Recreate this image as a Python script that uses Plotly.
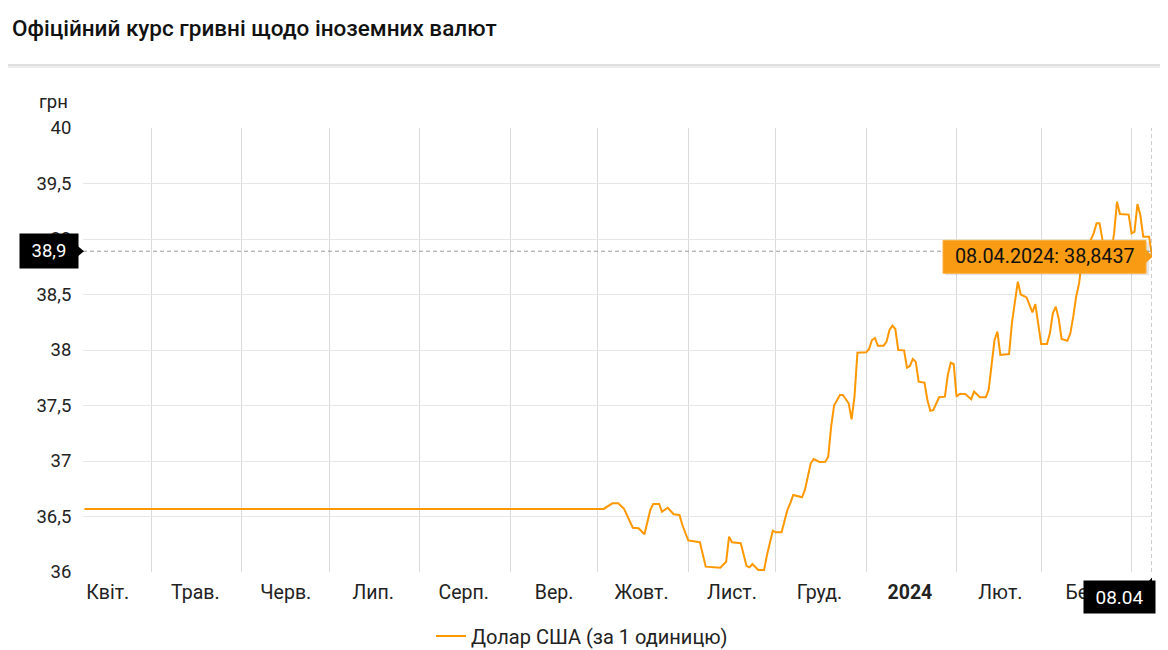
import plotly.graph_objects as go

# ---------------- data ----------------
dates = [
    "2023-04-08", "2023-10-02", "2023-10-03", "2023-10-06", "2023-10-08", "2023-10-10",
    "2023-10-11", "2023-10-13", "2023-10-15", "2023-10-17", "2023-10-19", "2023-10-20",
    "2023-10-22", "2023-10-23", "2023-10-25", "2023-10-27", "2023-10-29", "2023-10-30",
    "2023-11-01", "2023-11-05", "2023-11-07", "2023-11-12", "2023-11-14", "2023-11-15",
    "2023-11-16", "2023-11-19", "2023-11-21", "2023-11-22", "2023-11-23", "2023-11-25",
    "2023-11-27", "2023-11-28", "2023-11-30", "2023-12-01", "2023-12-03", "2023-12-05",
    "2023-12-06", "2023-12-07", "2023-12-10", "2023-12-11", "2023-12-13", "2023-12-14",
    "2023-12-16", "2023-12-18", "2023-12-19", "2023-12-20", "2023-12-21", "2023-12-23",
    "2023-12-24", "2023-12-25", "2023-12-26", "2023-12-27", "2023-12-28", "2023-12-29",
    "2024-01-01", "2024-01-02", "2024-01-03", "2024-01-04", "2024-01-05", "2024-01-07",
    "2024-01-08", "2024-01-09", "2024-01-10", "2024-01-11", "2024-01-12", "2024-01-14",
    "2024-01-15", "2024-01-16", "2024-01-17", "2024-01-18", "2024-01-19", "2024-01-21",
    "2024-01-22", "2024-01-23", "2024-01-24", "2024-01-26", "2024-01-28", "2024-01-29",
    "2024-01-30", "2024-01-31", "2024-02-01", "2024-02-02", "2024-02-04", "2024-02-06",
    "2024-02-07", "2024-02-09", "2024-02-11", "2024-02-12", "2024-02-14", "2024-02-15",
    "2024-02-16", "2024-02-19", "2024-02-20", "2024-02-22", "2024-02-23", "2024-02-25",
    "2024-02-26", "2024-02-27", "2024-02-28", "2024-02-29", "2024-03-01", "2024-03-03",
    "2024-03-04", "2024-03-05", "2024-03-06", "2024-03-07", "2024-03-08", "2024-03-10",
    "2024-03-11", "2024-03-12", "2024-03-13", "2024-03-14", "2024-03-15", "2024-03-17",
    "2024-03-19", "2024-03-20", "2024-03-21", "2024-03-22", "2024-03-23", "2024-03-25",
    "2024-03-26", "2024-03-27", "2024-03-28", "2024-03-31", "2024-04-01", "2024-04-02",
    "2024-04-03", "2024-04-04", "2024-04-05", "2024-04-07", "2024-04-08",
]
usd_rate = [
    36.5686, 36.5686, 36.5686, 36.619, 36.619, 36.570,
    36.514, 36.399, 36.394, 36.340, 36.559, 36.613,
    36.613, 36.543, 36.579, 36.520, 36.514, 36.423,
    36.285, 36.268, 36.048, 36.039, 36.093, 36.318,
    36.268, 36.259, 36.054, 36.042, 36.072, 36.018,
    36.018, 36.153, 36.372, 36.358, 36.358, 36.559,
    36.620, 36.694, 36.673, 36.739, 36.979, 37.018,
    36.991, 36.994, 37.039, 37.309, 37.500, 37.595,
    37.595, 37.556, 37.520, 37.376, 37.580, 37.976,
    37.979, 38.009, 38.090, 38.108, 38.039, 38.039,
    38.075, 38.180, 38.219, 38.189, 38.000, 37.997,
    37.841, 37.856, 37.919, 37.895, 37.715, 37.706,
    37.550, 37.453, 37.459, 37.574, 37.580, 37.775,
    37.886, 37.874, 37.580, 37.604, 37.604, 37.556,
    37.625, 37.574, 37.574, 37.640, 38.090, 38.165,
    37.955, 37.964, 38.250, 38.615, 38.500, 38.474,
    38.400, 38.339, 38.414, 38.240, 38.054, 38.054,
    38.150, 38.330, 38.390, 38.285, 38.100, 38.084,
    38.150, 38.300, 38.480, 38.600, 38.811, 38.931,
    39.051, 39.141, 39.141, 38.997, 38.870, 38.870,
    39.050, 39.336, 39.225, 39.220, 39.051, 39.066,
    39.315, 39.216, 39.021, 39.021, 38.8437,
]

month_starts = ["2023-05-01", "2023-06-01", "2023-07-01", "2023-08-01", "2023-09-01",
                "2023-10-01", "2023-11-01", "2023-12-01", "2024-01-01", "2024-02-01",
                "2024-03-01", "2024-04-01"]
label_dates = ["2023-04-16", "2023-05-16", "2023-06-16", "2023-07-16", "2023-08-16",
               "2023-09-16", "2023-10-16", "2023-11-16", "2023-12-16", "2024-01-16",
               "2024-02-16", "2024-03-16"]
label_text = ["Квіт.", "Трав.", "Черв.", "Лип.", "Серп.", "Вер.", "Жовт.", "Лист.",
              "Груд.", "<b>2024</b>", "Лют.", "Бер."]
y_ticks = [36, 36.5, 37, 37.5, 38, 38.5, 39, 39.5, 40]

series_name = "Долар США (за 1 одиницю)"
title_text = "Офіційний курс гривні щодо іноземних валют"
y_unit = "грн"
crosshair_y = 38.89
crosshair_label = "38,9"
x_label = "08.04"

# ---------------- layout geometry ----------------
# the page body adds an 8px margin, so the figure is shifted by OFF
OFF = 8
W, H = 1160, 642
L, T = 83 - OFF, 128 - OFF
R = W - (1152 - OFF)
B = H - (572 - OFF)
PW, PH = W - L - R, H - T - B


def fx(px):  # reference page pixel -> paper x
    return (px - OFF - L) / PW


def fy(py):  # reference page pixel -> paper y
    return (H - B - (py - OFF)) / PH


LINE = "#ff9800"
TIP = "#f99c14"
FONT = "Roboto"

last_date, last_val = dates[-1], usd_rate[-1]
d = last_date.split("-")
tip_text = f"{d[2]}.{d[1]}.{d[0]}: " + f"{last_val:.4f}".replace(".", ",")

fig = go.Figure()
fig.add_trace(go.Scatter(
    x=dates, y=usd_rate, mode="lines", name=series_name,
    line=dict(color=LINE, width=2), hoverinfo="skip",
))

shapes = []
# header separator with soft shadow
shapes.append(dict(type="line", xref="paper", yref="paper", x0=fx(0), x1=fx(W + 20),
                   y0=fy(65), y1=fy(65), line=dict(color="#d4d4d4", width=1.5)))
shapes.append(dict(type="line", xref="paper", yref="paper", x0=fx(0), x1=fx(W + 20),
                   y0=fy(67), y1=fy(67), line=dict(color="#ededed", width=2)))
# crosshair
shapes.append(dict(type="line", xref="paper", yref="y", x0=0, x1=1,
                   y0=crosshair_y, y1=crosshair_y,
                   line=dict(color="#9a9a9a", width=1, dash="4px,3px"), layer="above"))
shapes.append(dict(type="line", xref="x", yref="paper", x0=last_date, x1=last_date,
                   y0=0, y1=1, line=dict(color="#9a9a9a", width=1, dash="4px,3px"),
                   layer="above"))
# tooltip shadow, box and pointer
shapes.append(dict(type="rect", xref="x", yref="y", xsizemode="pixel", ysizemode="pixel",
                   xanchor=last_date, yanchor=last_val, x0=-207, x1=-3, y0=-19, y1=14,
                   fillcolor="rgba(0,0,0,0.10)", line=dict(width=0), layer="above"))
shapes.append(dict(type="rect", xref="x", yref="y", xsizemode="pixel", ysizemode="pixel",
                   xanchor=last_date, yanchor=last_val, x0=-209, x1=-6, y0=-17, y1=16,
                   fillcolor=TIP, line=dict(color="#fbb040", width=1), layer="above"))
shapes.append(dict(type="path", xref="x", yref="y", xsizemode="pixel", ysizemode="pixel",
                   xanchor=last_date, yanchor=last_val,
                   path="M-6.5,7 L1,0 L-6.5,-7 Z", fillcolor=TIP, line=dict(width=0),
                   layer="above"))
# pointers of the black axis labels
shapes.append(dict(type="path", xref="paper", yref="y", xsizemode="pixel", ysizemode="pixel",
                   xanchor=0, yanchor=crosshair_y, path="M-5,5 L1,0 L-5,-5 Z",
                   fillcolor="black", line=dict(width=0), layer="above"))
shapes.append(dict(type="path", xref="x", yref="paper", xsizemode="pixel", ysizemode="pixel",
                   xanchor=last_date, yanchor=0, path="M-3,-9 L4,-1 L4,-9 Z",
                   fillcolor="black", line=dict(width=0), layer="above"))

annotations = [
    dict(text=y_unit, xref="paper", yref="paper", x=fx(53), y=fy(102), showarrow=False,
         xanchor="center", yanchor="middle", font=dict(size=18.5, color="#222", family=FONT)),
    dict(text=crosshair_label, xref="paper", yref="y", x=0, y=crosshair_y, xshift=-4,
         xanchor="right", yanchor="middle", showarrow=False, bgcolor="black",
         width=58, height=34, borderpad=0, font=dict(size=18.5, color="white", family=FONT)),
    dict(text=x_label, xref="x", yref="paper", x=last_date, y=0, xshift=4, yshift=-8,
         xanchor="right", yanchor="top", showarrow=False, bgcolor="black",
         width=71, height=32, borderpad=0, font=dict(size=19, color="white", family=FONT)),
    dict(text=tip_text, xref="x", yref="y", x=last_date, y=last_val, xshift=-107.5,
         yshift=0, xanchor="center", yanchor="middle", showarrow=False,
         font=dict(size=19.8, color="#111", family=FONT)),
]

fig.update_layout(
    width=W, height=H,
    margin=dict(l=L, r=R, t=T, b=B, autoexpand=False),
    paper_bgcolor="white", plot_bgcolor="white",
    separators=",.",
    font=dict(family=FONT, size=18, color="#222"),
    title=dict(text=title_text, xref="container", yref="container",
               x=(12 - OFF) / W, y=1 - (28 - OFF) / H, xanchor="left", yanchor="middle",
               font=dict(family=FONT, size=22.5, color="#111", weight=500)),
    showlegend=True,
    legend=dict(orientation="h", xref="paper", yref="paper", x=fx(582), y=fy(636),
                xanchor="center", yanchor="middle", font=dict(size=20, color="#222"),
                itemwidth=30),
    hovermode=False,
    shapes=shapes,
    annotations=annotations,
    xaxis=dict(
        type="date", range=["2023-04-07 12:00", last_date],
        tickmode="array", tickvals=label_dates, ticktext=label_text,
        showgrid=False, ticks="outside", ticklen=3, tickcolor="rgba(0,0,0,0)",
        tickfont=dict(size=19.5, color="#222"), showline=False, zeroline=False,
        minor=dict(tickmode="array", tickvals=month_starts, showgrid=True,
                   gridcolor="#dadada", gridwidth=1, ticks=""),
    ),
    yaxis=dict(
        range=[36, 40], tickmode="array", tickvals=y_ticks,
        showgrid=True, gridcolor="#e6e6e6", gridwidth=1, zeroline=False,
        ticks="outside", ticklen=7, tickcolor="rgba(0,0,0,0)",
        tickfont=dict(size=18.5, color="#222"), showline=False,
    ),
)

fig.write_html("out.html")
